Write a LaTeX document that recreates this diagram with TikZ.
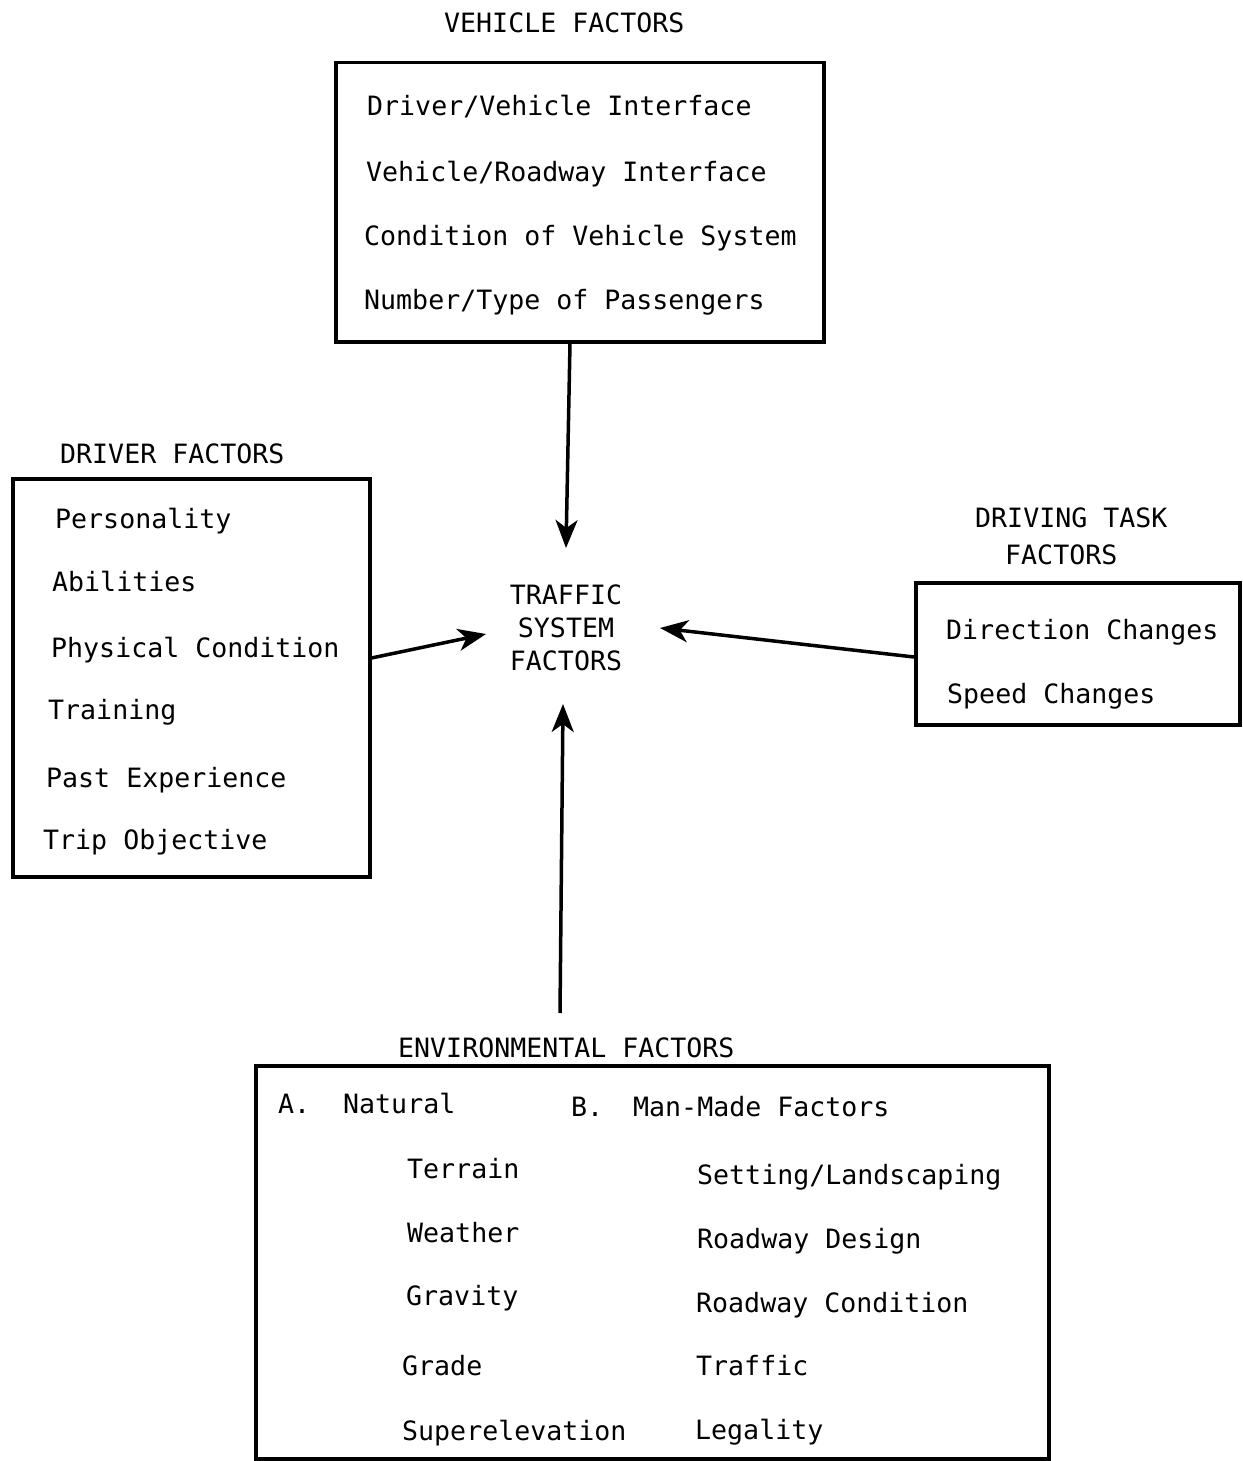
\documentclass[tikz,border=0pt]{standalone}
\usepackage{fontspec}
\newfontfamily\tw{DejaVu Sans Mono}
\usetikzlibrary{arrows.meta}
\begin{document}
\begin{tikzpicture}[x=1pt,y=-1pt,
  txt/.style={inner sep=0pt,anchor=base west,font=\tw\fontsize{26.6}{33}\selectfont},
  box/.style={draw,line width=3.5pt,inner sep=0pt,anchor=north west},
  arr/.style={line width=3.5pt,-{Stealth[length=28pt,width=22pt,inset=8pt]}}]
\useasboundingbox (0,0) rectangle (1242,1461);

% boxes
\node[box,minimum width=488pt,minimum height=279pt] (vehicle) at (334,61) {};
\node[box,minimum width=357pt,minimum height=398pt] (driver) at (11,477) {};
\node[box,minimum width=324pt,minimum height=142pt] (task) at (914,581) {};
\node[box,minimum width=793pt,minimum height=393pt] (env) at (254,1064) {};

% titles
\node[txt] (vt) at (444,33) {VEHICLE FACTORS};
\node[txt] (dt) at (60,463) {DRIVER FACTORS};
\node[txt] (tt1) at (975,527) {DRIVING TASK};
\node[txt] (tt2) at (1005,564) {FACTORS};
\node[txt] (et) at (398,1057) {ENVIRONMENTAL FACTORS};

% centre
\node[txt,anchor=center,align=center] (traffic) at (566,628) {TRAFFIC\\SYSTEM\\FACTORS};

% vehicle items
\node[txt] (v1) at (367,116) {Driver/Vehicle Interface};
\node[txt] (v2) at (366,181) {Vehicle/Roadway Interface};
\node[txt] (v3) at (364,245) {Condition of Vehicle System};
\node[txt] (v4) at (364,309) {Number/Type of Passengers};

% driver items
\node[txt] (d1) at (55,528) {Personality};
\node[txt] (d2) at (52,591) {Abilities};
\node[txt] (d3) at (51,657) {Physical Condition};
\node[txt] (d4) at (48,719) {Training};
\node[txt] (d5) at (46,787) {Past Experience};
\node[txt] (d6) at (43,849) {Trip Objective};

% task items
\node[txt] (t1) at (946,639) {Direction Changes};
\node[txt] (t2) at (947,703) {Speed Changes};

% environmental items
\node[txt] (ea) at (278,1113) {A.};
\node[txt] (ean) at (343,1113) {Natural};
\node[txt] (eb) at (571,1116) {B.};
\node[txt] (ebm) at (633,1116) {Man-Made Factors};
\node[txt] (e1) at (407,1178) {Terrain};
\node[txt] (e2) at (407,1242) {Weather};
\node[txt] (e3) at (406,1305) {Gravity};
\node[txt] (e4) at (402,1375) {Grade};
\node[txt] (e5) at (402,1440) {Superelevation};
\node[txt] (m1) at (697,1184) {Setting/Landscaping};
\node[txt] (m2) at (697,1248) {Roadway Design};
\node[txt] (m3) at (696,1312) {Roadway Condition};
\node[txt] (m4) at (696,1375) {Traffic};
\node[txt] (m5) at (695,1439) {Legality};

% arrow ends
\coordinate (tipT) at (566,548);
\coordinate (tipL) at (486,634);
\coordinate (tipR) at (660,628);
\coordinate (tipB) at (563,704);
\coordinate (envtop) at (560,1013);

\draw[arr] (vehicle.south -| 570,0) -- (tipT);
\draw[arr] (driver.east |- 0,658) -- (tipL);
\draw[arr] (task.west |- 0,657) -- (tipR);
\draw[arr] (envtop) -- (tipB);
\end{tikzpicture}
\end{document}
